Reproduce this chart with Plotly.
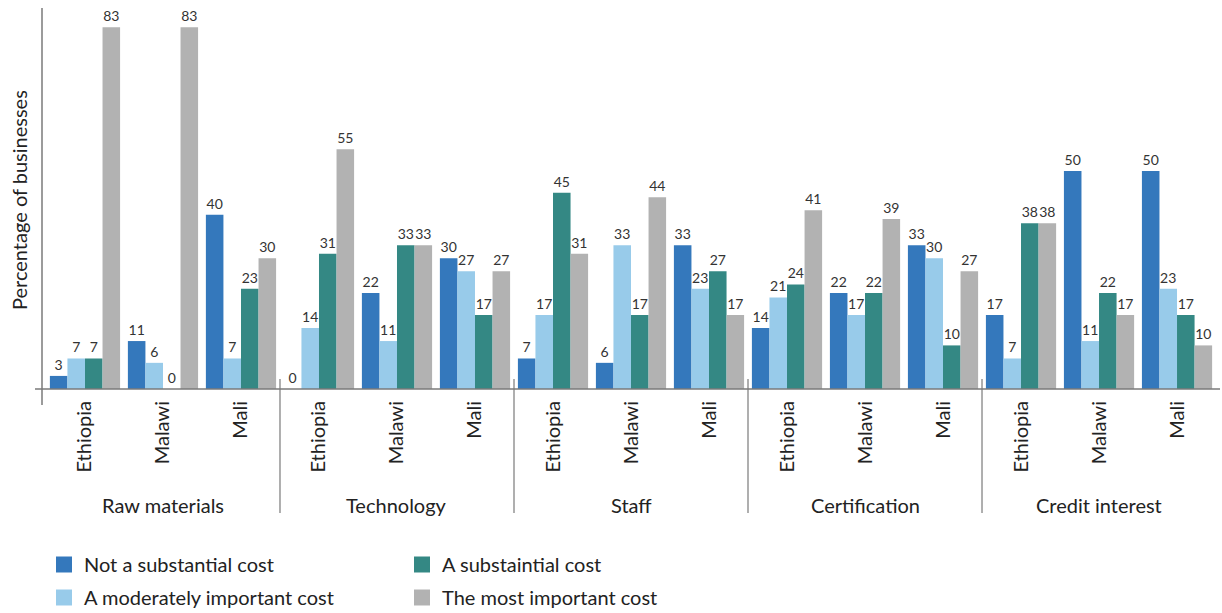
import plotly.graph_objects as go

categories = ["Raw materials", "Technology", "Staff", "Certification", "Credit interest"]
countries = ["Ethiopia", "Malawi", "Mali"]

not_substantial = [3, 11, 40, 0, 22, 30, 7, 6, 33, 14, 22, 33, 17, 50, 50]
moderately = [7, 6, 7, 14, 11, 27, 17, 33, 23, 21, 17, 30, 7, 11, 23]
substantial = [7, 0, 23, 31, 33, 17, 45, 17, 27, 24, 22, 10, 38, 22, 17]
most_important = [83, 83, 30, 55, 33, 27, 31, 44, 17, 41, 39, 27, 38, 17, 10]

series = [
    ("Not a substantial cost", not_substantial, "#3478bc", 1, "legend"),
    ("A moderately important cost", moderately, "#98cbea", 3, "legend2"),
    ("A substaintial cost", substantial, "#348884", 2, "legend"),
    ("The most important cost", most_important, "#b2b2b2", 4, "legend2"),
]

FONT = "Lato"
n = len(categories) * len(countries)
xs = list(range(n))
ticktext = [countries[i % 3] for i in range(n)]

fig = go.Figure()
for name, vals, color, rank, leg in series:
    fig.add_trace(go.Bar(
        x=xs, y=vals, name=name, marker=dict(color=color, line=dict(width=0)),
        text=[str(v) for v in vals], textposition="outside",
        textfont=dict(size=14, color="#333333", family=FONT),
        cliponaxis=False, showlegend=False,
    ))
for name, vals, color, rank, leg in series:
    fig.add_trace(go.Scatter(
        x=[None], y=[None], mode="markers", name=name,
        marker=dict(symbol="square", size=19, color=color),
        legendrank=rank, legend=leg, showlegend=True,
    ))

plot_w = 1178
plot_h = 381

def py(pix):
    return (389 - pix) / plot_h

def px(pix):
    return (pix - 42) / plot_w

shapes = []
line_col = "#7a7a7a"
shapes.append(dict(type="line", xref="paper", yref="paper", x0=px(35), x1=1, y0=0, y1=0,
                   line=dict(color=line_col, width=1.5)))
shapes.append(dict(type="line", xref="paper", yref="paper", x0=0, x1=0, y0=py(405), y1=1,
                   line=dict(color=line_col, width=1.5)))
for b in [2.5, 5.5, 8.5, 11.5]:
    shapes.append(dict(type="line", xref="x", yref="paper", x0=b, x1=b, y0=py(379), y1=py(513),
                       line=dict(color=line_col, width=1.2)))

annotations = []
for i, c in enumerate(categories):
    annotations.append(dict(x=3 * i + 1, y=py(505), xref="x", yref="paper", text=c,
                            showarrow=False, xanchor="center", yanchor="middle",
                            font=dict(size=20, color="#222222", family=FONT)))
annotations.append(dict(x=px(19), y=py(200), xref="paper", yref="paper",
                        text="Percentage of businesses", textangle=-90, showarrow=False,
                        xanchor="center", yanchor="middle",
                        font=dict(size=20, color="#222222", family=FONT)))

legfont = dict(size=20, color="#222222", family=FONT)
fig.update_layout(
    width=1222, height=613,
    margin=dict(l=42, r=2, t=8, b=224, pad=0, autoexpand=False),
    paper_bgcolor="white", plot_bgcolor="white",
    barmode="group", bargap=0.1, bargroupgap=0,
    font=dict(family=FONT, color="#222222"),
    xaxis=dict(range=[-0.551, 14.551], tickvals=xs, ticktext=ticktext, tickangle=-90,
               showline=False, showgrid=False, zeroline=False, ticks="",
               ticklabelstandoff=7, automargin=False,
               tickfont=dict(size=20, color="#222222", family=FONT)),
    yaxis=dict(range=[0, 87.4], showticklabels=False, showgrid=False, zeroline=False,
               showline=False, ticks="", automargin=False),
    legend=dict(orientation="h", x=px(44), y=py(545), xanchor="left", yanchor="top",
                entrywidth=313, entrywidthmode="pixels", font=legfont,
                itemsizing="trace", traceorder="normal"),
    legend2=dict(orientation="h", x=px(44), y=py(578), xanchor="left", yanchor="top",
                 entrywidth=313, entrywidthmode="pixels", font=legfont,
                 itemsizing="trace", traceorder="normal"),
    shapes=shapes, annotations=annotations,
)

fig.write_html("out.html", config={"displayModeBar": False},
               post_script="document.body.style.margin='0';")
